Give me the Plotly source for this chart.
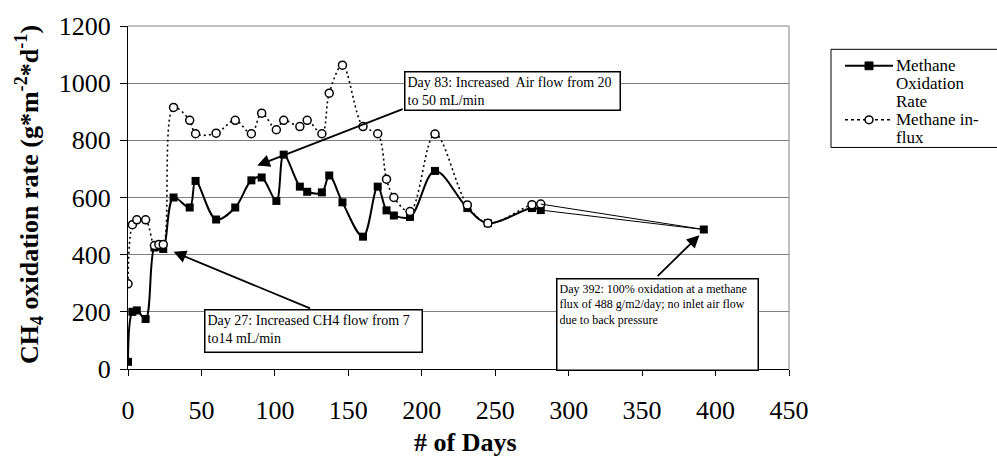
import plotly.graph_objects as go

# ---- data ----
days = [0, 3, 6, 12, 18, 21, 24, 31, 42, 46, 60, 73, 84, 91, 101, 106, 117, 122,
        132, 137, 146, 160, 170, 176, 181, 192, 209, 231, 245, 275, 281, 392]
oxidation = [25, 200, 205, 175, 425, 428, 420, 600, 565, 658, 523, 565, 660, 670, 588,
             750, 638, 620, 618, 677, 583, 463, 638, 555, 537, 532, 693, 563, 510, 563, 556, 488]
influx = [298, 505, 522, 522, 432, 436, 436, 915, 870, 823, 825, 870, 823, 895, 837,
          870, 848, 870, 823, 965, 1063, 848, 823, 664, 600, 551, 822, 574, 510, 575, 577, 488]

x_ticks = [0, 50, 100, 150, 200, 250, 300, 350, 400, 450]
y_ticks = [0, 200, 400, 600, 800, 1000, 1200]

FONT = "Liberation Serif, Times New Roman, serif"

# plot-area geometry in pixels
W, H = 997, 460
L, R, T, B = 128, 208, 16, 91
PW, PH = W - L - R, H - T - B


def PX(p):
    return (p - L) / PW


def PY(p):
    return (H - B - p) / PH


fig = go.Figure()

# main smoothed segments (up to day 281)
fig.add_trace(go.Scatter(
    x=days[:-1], y=oxidation[:-1], mode="lines+markers",
    line=dict(color="black", width=2, shape="spline", smoothing=1),
    marker=dict(symbol="square", size=8, color="black"),
    showlegend=False, hoverinfo="skip"))
fig.add_trace(go.Scatter(
    x=days[:-1], y=influx[:-1], mode="lines+markers",
    line=dict(color="black", width=1.6, dash="2px,3px", shape="spline", smoothing=1),
    marker=dict(symbol="circle", size=8, color="white", line=dict(color="black", width=1.5)),
    showlegend=False, hoverinfo="skip"))
# final thin segments to day 392
fig.add_trace(go.Scatter(
    x=days[-2:], y=influx[-2:], mode="lines",
    line=dict(color="black", width=1),
    showlegend=False, hoverinfo="skip"))
fig.add_trace(go.Scatter(
    x=days[-2:], y=oxidation[-2:], mode="lines",
    line=dict(color="black", width=1),
    showlegend=False, hoverinfo="skip"))
fig.add_trace(go.Scatter(
    x=days[-1:], y=oxidation[-1:], mode="markers",
    marker=dict(symbol="square", size=8, color="black"),
    showlegend=False, hoverinfo="skip"))

legend_lines = ["Methane", "Oxidation", "Rate", "Methane in-", "flux"]
legend_y = [57, 75.5, 94, 112.5, 131]
LEG_Y1, LEG_Y2 = legend_y[0], legend_y[3]
shapes = [
    # gray top/right plot border
    dict(type="line", xref="paper", yref="paper", x0=0, x1=1, y0=1, y1=1,
         line=dict(color="#808080", width=1)),
    dict(type="line", xref="paper", yref="paper", x0=1, x1=1, y0=0, y1=1,
         line=dict(color="#808080", width=1)),
    # legend box
    dict(type="rect", xref="paper", yref="paper", x0=PX(831), x1=PX(1002),
         y0=PY(141), y1=PY(40), line=dict(color="black", width=1), fillcolor="white"),
    dict(type="line", xref="paper", yref="paper", x0=PX(845), x1=PX(893),
         y0=PY(LEG_Y1), y1=PY(LEG_Y1), line=dict(color="black", width=2)),
    dict(type="rect", xref="paper", yref="paper", x0=PX(865), x1=PX(873),
         y0=PY(LEG_Y1 + 4), y1=PY(LEG_Y1 - 4), line=dict(color="black", width=1),
         fillcolor="black"),
    dict(type="line", xref="paper", yref="paper", x0=PX(845), x1=PX(893),
         y0=PY(LEG_Y2), y1=PY(LEG_Y2), line=dict(color="black", width=1.5, dash="dot")),
    dict(type="circle", xref="paper", yref="paper", x0=PX(865), x1=PX(873),
         y0=PY(LEG_Y2 + 4), y1=PY(LEG_Y2 - 4), line=dict(color="black", width=1.5),
         fillcolor="white"),
]

annotations = []
for txt, yy in zip(legend_lines, legend_y):
    annotations.append(dict(xref="paper", yref="paper", x=PX(895), y=PY(yy),
                            text=txt, showarrow=False, xanchor="left", yanchor="middle",
                            borderpad=0,
                            font=dict(family=FONT, size=17, color="black")))

# axis titles
annotations.append(dict(xref="paper", yref="paper", x=PX(465), y=PY(445),
                        text="<b># of Days</b>", showarrow=False,
                        xanchor="center", yanchor="middle",
                        font=dict(family=FONT, size=26, color="black")))
annotations.append(dict(xref="paper", yref="paper", x=PX(29), y=PY(190),
                        text="<b>CH<sub>4</sub> oxidation rate (g*m<sup>-2</sup>*d<sup>-1</sup>)</b>",
                        showarrow=False, textangle=-90,
                        xanchor="center", yanchor="middle",
                        font=dict(family=FONT, size=26, color="black")))

# arrows (tail -> head), in data coordinates
arrows = [
    ((188, 911), (88, 712)),
    ((125, 210), (31, 410)),
    ((359.5, 320), (389, 468)),
]
for (tx, ty), (hx, hy) in arrows:
    annotations.append(dict(x=hx, y=hy, ax=tx, ay=ty, xref="x", yref="y",
                            axref="x", ayref="y", text="", showarrow=True,
                            arrowhead=2, arrowsize=1.4, arrowwidth=1.8,
                            arrowcolor="black"))

# note boxes (left, top, width, height in pixels)
notes = [
    (404, 62, 216, 39, "Day 83: Increased  Air flow from 20<br>to 50 mL/min", 14),
    (204, 307, 218, 43, "Day 27: Increased CH4 flow from 7<br>to14 mL/min", 14),
    (556, 275, 202, 92, "Day 392: 100% oxidation at a methane<br>flux of 488 g/m2/day; no inlet air flow<br>due to back pressure", 12),
]
for left, top, w, h, txt, fs in notes:
    annotations.append(dict(xref="paper", yref="paper", x=PX(left), y=PY(top),
                            xanchor="left", yanchor="top", text=txt, showarrow=False,
                            align="left", valign="top", width=w - 6, height=h - 6,
                            borderpad=2, bordercolor="black", borderwidth=1.5,
                            bgcolor="white",
                            font=dict(family=FONT, size=fs, color="black")))

fig.update_layout(
    width=W, height=H,
    margin=dict(l=L, r=R, t=T, b=B),
    paper_bgcolor="white", plot_bgcolor="white",
    font=dict(family=FONT, color="black"),
    shapes=shapes, annotations=annotations,
    xaxis=dict(range=[0, 450], tickvals=x_ticks, ticktext=[str(v) for v in x_ticks],
               ticks="outside", ticklen=6, tickcolor="black", tickwidth=1,
               ticklabelstandoff=12,
               showline=True, linecolor="black", linewidth=1,
               showgrid=False, zeroline=False,
               tickfont=dict(family=FONT, size=26, color="black")),
    yaxis=dict(range=[0, 1200], tickvals=y_ticks, ticktext=[str(v) for v in y_ticks],
               ticks="outside", ticklen=7, tickcolor="black", tickwidth=1,
               ticklabelstandoff=4, ticklabeloverflow="allow",
               showline=True, linecolor="black", linewidth=1,
               showgrid=True, gridcolor="#808080", gridwidth=1, zeroline=False,
               tickfont=dict(family=FONT, size=26, color="black")),
)

fig.write_html("out.html")
